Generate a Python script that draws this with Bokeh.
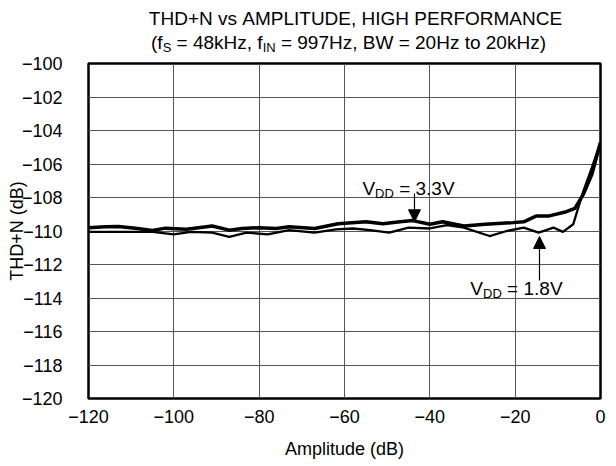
import math
from bokeh.plotting import figure
from bokeh.layouts import column
from bokeh.models import FixedTicker, Label, Arrow, NormalHead, Range1d
from bokeh.embed import file_html
from bokeh.resources import INLINE

# ---- data ----
x_33 = [-120, -116, -113, -109, -105, -102, -97, -91, -87, -84, -80, -76, -73, -67,
        -61.5, -55, -51, -47, -44, -40, -37, -32, -27, -20.5, -18, -15, -12, -8, -6,
        -4, -2, 0]
y_33 = [-109.8, -109.75, -109.73, -109.83, -109.97, -109.83, -109.9, -109.7, -109.95,
        -109.85, -109.8, -109.85, -109.75, -109.85, -109.57, -109.45, -109.57, -109.45,
        -109.38, -109.6, -109.45, -109.7, -109.6, -109.5, -109.45, -109.1, -109.1,
        -108.85, -108.65, -107.8, -106.6, -104.7]
x_18 = [-120, -116, -110, -105, -100, -96, -91, -87, -83, -78, -73, -67, -62, -58, -54,
        -49.5, -45, -40, -36, -32, -26, -22, -18, -14.5, -11, -8.8, -6.4, -4, -2, 0]
y_18 = [-110.05, -110.05, -110.05, -110.05, -110.2, -110.05, -110.1, -110.35, -110.1,
        -110.2, -109.95, -110.1, -109.9, -109.85, -109.95, -110.1, -109.8, -109.85,
        -109.65, -109.8, -110.3, -110.0, -109.8, -110.1, -109.8, -110.05, -109.6,
        -107.6, -106.2, -104.7]
x_ticks = [-120, -100, -80, -60, -40, -20, 0]
y_ticks = [-120, -118, -116, -114, -112, -110, -108, -106, -104, -102, -100]

FONT = "Liberation Sans"
NB = "\u00a0"
AW = {' ': 278, NB: 278, '(': 333, ')': 333, ',': 278, '.': 278, '=': 584, '+': 584,
      'A': 667, 'B': 667, 'C': 722, 'D': 722, 'E': 667, 'F': 611, 'G': 778, 'H': 722,
      'I': 278, 'L': 556, 'M': 833, 'N': 722, 'O': 778, 'P': 667, 'R': 722, 'S': 667,
      'T': 611, 'U': 722, 'V': 667, 'W': 944, 'f': 278, 'k': 500, 'o': 556, 't': 278,
      'z': 500, 's': 500, 'v': 500}


def tw(s, size):
    return sum(AW.get(c, 556) for c in s) * size / 1000.0


def rich(fig, x, y, segs, align="left"):
    total = sum(tw(t, sz) for t, sz, _ in segs)
    off = 0.0 if align == "left" else -total / 2.0
    for t, sz, dy in segs:
        fig.add_layout(Label(x=x, y=y, x_offset=off, y_offset=dy, text=t.replace(" ", NB),
                             text_font=FONT, text_font_size=f"{sz}px",
                             text_align="left", text_baseline="alphabetic",
                             text_color="black"))
        off += tw(t, sz)


# ---- title strip (frame aligned with the main plot's frame) ----
TOP_H = 56
top = figure(frame_width=512, frame_height=TOP_H, output_backend="svg",
             toolbar_location=None, title=None,
             x_range=Range1d(88, 600), y_range=Range1d(TOP_H, 0),
             min_border_left=88, min_border_right=8, min_border_top=0,
             min_border_bottom=0)
top.axis.visible = False
top.grid.visible = False
top.outline_line_color = None
top.border_fill_color = None
top.background_fill_color = None
rich(top, 355, 18, [("THD+N vs AMPLITUDE, HIGH PERFORMANCE", 19, 0)], align="center")
rich(top, 348, 42, [("(f", 19, 0), ("S", 13, -5), (" = 48kHz, f", 19, 0), ("IN", 13, -5),
                    (" = 997Hz, BW = 20Hz to 20kHz)", 19, 0)], align="center")

# ---- main plot ----
p = figure(frame_width=512, frame_height=335, output_backend="svg",
           toolbar_location=None, title=None,
           x_range=Range1d(-120, 0), y_range=Range1d(-120, -100),
           min_border_left=88, min_border_right=8, min_border_top=63 - TOP_H,
           min_border_bottom=58)
p.background_fill_color = "white"
p.border_fill_color = None
p.outline_line_color = "black"
p.outline_line_width = 2.5

for ax in (p.xaxis[0], p.yaxis[0]):
    ax.axis_line_color = None
    ax.major_tick_line_color = None
    ax.minor_tick_line_color = None
    ax.major_tick_out = 0
    ax.major_tick_in = 0
    ax.major_label_text_font = FONT
    ax.major_label_text_font_size = "18px"
    ax.major_label_text_color = "black"
    ax.axis_label_text_font = FONT
    ax.axis_label_text_font_size = "18px"
    ax.axis_label_text_font_style = "normal"
    ax.axis_label_text_color = "black"

p.xaxis.ticker = FixedTicker(ticks=x_ticks)
p.yaxis.ticker = FixedTicker(ticks=y_ticks)
p.xaxis.major_label_overrides = {t: (str(t).replace("-", "\u2212")) for t in x_ticks}
p.yaxis.major_label_overrides = {t: (str(t).replace("-", "\u2212")) for t in y_ticks}
p.xaxis.major_label_standoff = 11
p.yaxis.major_label_standoff = 26
p.xaxis.axis_label = "Amplitude (dB)"
p.xaxis.axis_label_standoff = 13
p.yaxis.axis_label = "THD+N (dB)"
p.yaxis.axis_label_standoff = -8

p.xgrid.grid_line_color = "#555555"
p.ygrid.grid_line_color = "#555555"
p.xgrid.grid_line_width = 1
p.ygrid.grid_line_width = 1

p.line(x_18, y_18, line_color="black", line_width=2.3)
p.line(x_33, y_33, line_color="black", line_width=3.5)

rich(p, -55.8, -107.46, [("V", 19, 0), ("DD", 13, -5), (" = 3.3V", 19, 0)])
rich(p, -30.5, -113.43, [("V", 19, 0), ("DD", 13, -5), (" = 1.8V", 19, 0)])

p.add_layout(Arrow(end=NormalHead(size=12, fill_color="black", line_color="black"),
                   x_start=-43.6, y_start=-107.76, x_end=-43.6, y_end=-109.45,
                   line_color="black", line_width=1.2))
p.add_layout(Arrow(end=NormalHead(size=12, fill_color="black", line_color="black"),
                   x_start=-14.3, y_start=-112.96, x_end=-14.3, y_end=-110.33,
                   line_color="black", line_width=1.2))

layout = column(top, p, spacing=0)
open("out.html", "w").write(file_html(layout, INLINE))
